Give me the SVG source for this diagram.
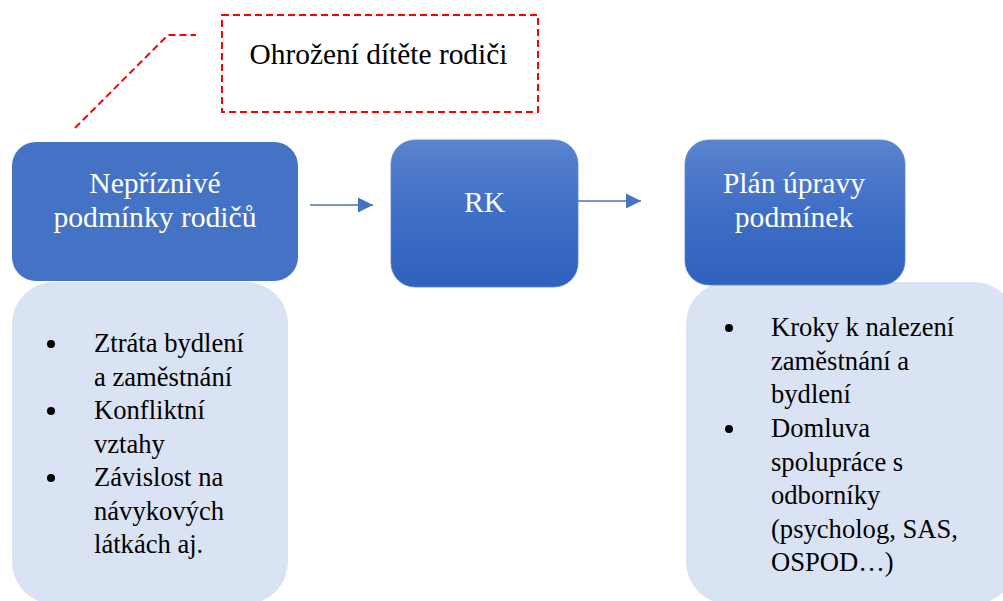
<svg xmlns="http://www.w3.org/2000/svg" width="1003" height="601" viewBox="0 0 1003 601">
<defs>
<linearGradient id="g" x1="0" y1="0" x2="0" y2="1">
<stop offset="0" stop-color="#5b83cd"/>
<stop offset="0.5" stop-color="#3f6ec6"/>
<stop offset="1" stop-color="#2f62bd"/>
</linearGradient>
<marker id="ah" markerWidth="16" markerHeight="16" refX="15" refY="8" orient="auto" markerUnits="userSpaceOnUse">
<path d="M0,0.5 L15,8 L0,15.5 Z" fill="#4472c4"/>
</marker>
</defs>
<style>
.hd{font-family:'Liberation Serif',serif;font-size:29.6px;fill:#ffffff;text-anchor:middle}
.li{font-family:'Liberation Serif',serif;font-size:26.6px;fill:#000000}
.co{font-family:'Liberation Serif',serif;font-size:29.4px;fill:#000000;text-anchor:middle}
.lt{fill:#dae3f3}
.dash{fill:none;stroke:#ff0000;stroke-width:2;stroke-dasharray:7,4}
.conn{stroke:#4472c4;stroke-width:1.6;fill:none}
</style>
<rect width="1003" height="601" fill="#ffffff"/>

<g id="callout">
<rect class="dash" x="222" y="15" width="316" height="97"/>
<polyline class="dash" points="75,128 168,35 196,35"/>
<text class="co" x="378.5" y="64">Ohrožení dítěte rodiči</text>
</g>

<g id="list-left">
<rect class="lt" x="12" y="282" width="276" height="322" rx="42"/>
<circle cx="51" cy="344" r="4"/>
<circle cx="51" cy="411" r="4"/>
<circle cx="51" cy="478" r="4"/>
<text class="li" x="94" y="352">Ztráta bydlení</text>
<text class="li" x="94" y="385.5">a zaměstnání</text>
<text class="li" x="94" y="419">Konfliktní</text>
<text class="li" x="94" y="452.5">vztahy</text>
<text class="li" x="94" y="486">Závislost na</text>
<text class="li" x="94" y="519.5">návykových</text>
<text class="li" x="94" y="553">látkách aj.</text>
</g>

<g id="list-right">
<rect class="lt" x="686" y="282" width="330" height="322" rx="42"/>
<circle cx="729" cy="328" r="4"/>
<circle cx="729" cy="429" r="4"/>
<text class="li" x="771" y="336">Kroky k nalezení</text>
<text class="li" x="771" y="369.6">zaměstnání a</text>
<text class="li" x="771" y="403">bydlení</text>
<text class="li" x="771" y="437">Domluva</text>
<text class="li" x="771" y="470.5">spolupráce s</text>
<text class="li" x="771" y="504">odborníky</text>
<text class="li" x="771" y="537.6">(psycholog, SAS,</text>
<text class="li" x="771" y="571">OSPOD…)</text>
</g>

<g id="node-nepriznive">
<rect x="12" y="142" width="286" height="139" rx="24" fill="#4472c4"/>
<text class="hd" x="155" y="193">Nepříznivé</text>
<text class="hd" x="155" y="227">podmínky rodičů</text>
</g>

<g id="node-rk">
<rect x="391" y="140" width="187" height="147" rx="24" fill="url(#g)" stroke="#5b83cd" stroke-width="0.8"/>
<text class="hd" x="484.5" y="212">RK</text>
</g>

<g id="node-plan">
<rect x="685" y="140" width="220" height="145" rx="24" fill="url(#g)" stroke="#5b83cd" stroke-width="0.8"/>
<text class="hd" x="794" y="193">Plán úpravy</text>
<text class="hd" x="794" y="227">podmínek</text>
</g>

<g id="connectors">
<line class="conn" x1="310" y1="205" x2="373" y2="205" marker-end="url(#ah)"/>
<line class="conn" x1="578" y1="201" x2="641" y2="201" marker-end="url(#ah)"/>
</g>
</svg>
